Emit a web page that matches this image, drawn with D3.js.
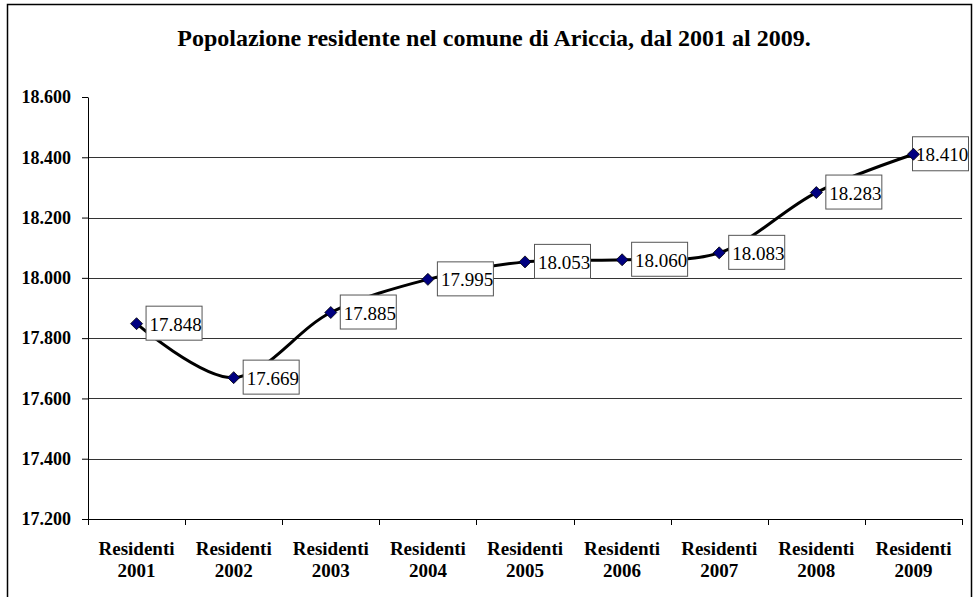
<!DOCTYPE html>
<html>
<head>
<meta charset="utf-8">
<script src="https://cdn.jsdelivr.net/npm/d3@7"></script>
<style>
  body { margin: 0; background: #fff; overflow: hidden; }
  svg { display: block; }
</style>
</head>
<body>
<div id="chart"></div>
<script>
// Popolazione residente, Ariccia 2001-2009
const categories = ['2001', '2002', '2003', '2004', '2005', '2006', '2007', '2008', '2009'];
const residents = [17848, 17669, 17885, 17995, 18053, 18060, 18083, 18283, 18410];
const yTicks = [17200, 17400, 17600, 17800, 18000, 18200, 18400, 18600];

const W = 973, H = 597;
const margin = { top: 97, right: 11, bottom: 78, left: 88 };
const width = W - margin.left - margin.right;
const height = H - margin.top - margin.bottom;
const serif = "'Liberation Serif', 'Times New Roman', serif";

const fmt = v => d3.format(',')(v).replace(/,/g, '.');

const svg = d3.select('#chart')
  .append('svg')
  .attr('width', W)
  .attr('height', H);

// outer frame
svg.append('rect')
  .attr('x', 7.5).attr('y', 4.5)
  .attr('width', 964).attr('height', 600)
  .attr('fill', '#fff')
  .attr('stroke', '#000')
  .attr('stroke-width', 1.5);

svg.append('text')
  .attr('x', 494)
  .attr('y', 46)
  .attr('text-anchor', 'middle')
  .style('font-family', serif)
  .style('font-size', '24px')
  .style('font-weight', 'bold')
  .text('Popolazione residente nel comune di Ariccia, dal 2001 al 2009.');

const g = svg.append('g')
  .attr('transform', `translate(${margin.left},${margin.top})`);

const x = d3.scaleBand()
  .domain(categories)
  .range([0, width]);

const y = d3.scaleLinear()
  .domain([17200, 18600])
  .range([height, 0]);

// gridlines
g.selectAll('.grid')
  .data(yTicks.filter(v => v > 17200 && v < 18600))
  .enter()
  .append('line')
  .attr('x1', 0).attr('x2', width)
  .attr('y1', d => Math.round(y(d)) + 0.5)
  .attr('y2', d => Math.round(y(d)) + 0.5)
  .attr('stroke', '#333');

// Y axis
const yAxis = g.append('g')
  .call(d3.axisLeft(y).tickValues(yTicks).tickFormat(fmt).tickSize(6).tickSizeOuter(0));
yAxis.attr('font-family', null);
yAxis.select('.domain').attr('stroke', '#000');
yAxis.selectAll('text')
  .attr('x', -17)
  .style('font-size', '18px')
  .style('font-weight', 'bold')
  .style('font-family', serif)
  .attr('fill', '#000');

// X axis: ticks at category boundaries
const xAxis = g.append('g')
  .attr('transform', `translate(0,${height})`)
  .call(d3.axisBottom(x).tickSize(0).tickFormat(''));
xAxis.select('.domain').attr('stroke', '#000');
const bounds = categories.map(c => x(c)).concat([width]);
xAxis.selectAll('.bound')
  .data(bounds)
  .enter()
  .append('line')
  .attr('x1', d => Math.round(d) + 0.5)
  .attr('x2', d => Math.round(d) + 0.5)
  .attr('y1', 0).attr('y2', 6)
  .attr('stroke', '#000');

const xl = g.selectAll('.xlab')
  .data(categories)
  .enter()
  .append('text')
  .attr('x', d => x(d) + x.bandwidth() / 2)
  .attr('text-anchor', 'middle')
  .style('font-family', serif)
  .style('font-size', '19px')
  .style('font-weight', 'bold');
xl.append('tspan')
  .attr('x', d => x(d) + x.bandwidth() / 2)
  .attr('y', height + 36)
  .text('Residenti');
xl.append('tspan')
  .attr('x', d => x(d) + x.bandwidth() / 2)
  .attr('y', height + 58)
  .text(d => d);

// smoothed line
const cx = i => x(categories[i]) + x.bandwidth() / 2;
const line = d3.line()
  .x((d, i) => cx(i))
  .y(d => y(d))
  .curve(d3.curveCatmullRom.alpha(0.5));

g.append('path')
  .datum(residents)
  .attr('fill', 'none')
  .attr('stroke', '#000')
  .attr('stroke-width', 3)
  .attr('d', line);

// data labels (kept inside the frame)
const boxW = 56;
const lab = g.selectAll('.lab')
  .data(residents)
  .enter()
  .append('g')
  .attr('transform', (d, i) => {
    const left = Math.min(cx(i) + 9, width + 6 - boxW);
    return `translate(${left},${y(d)})`;
  });

lab.append('rect')
  .attr('x', 0.5).attr('y', -17.5)
  .attr('width', boxW).attr('height', 34)
  .attr('fill', '#fff')
  .attr('stroke', '#555');

lab.append('text')
  .attr('x', 4)
  .attr('y', 7)
  .style('font-family', serif)
  .style('font-size', '19px')
  .text(d => fmt(d));

// diamond markers
g.selectAll('.pt')
  .data(residents)
  .enter()
  .append('path')
  .attr('transform', (d, i) => `translate(${cx(i)},${y(d)})`)
  .attr('d', 'M0,-6L6,0L0,6L-6,0Z')
  .attr('fill', '#000080')
  .attr('stroke', '#000')
  .attr('stroke-width', 0.8);
</script>
</body>
</html>
